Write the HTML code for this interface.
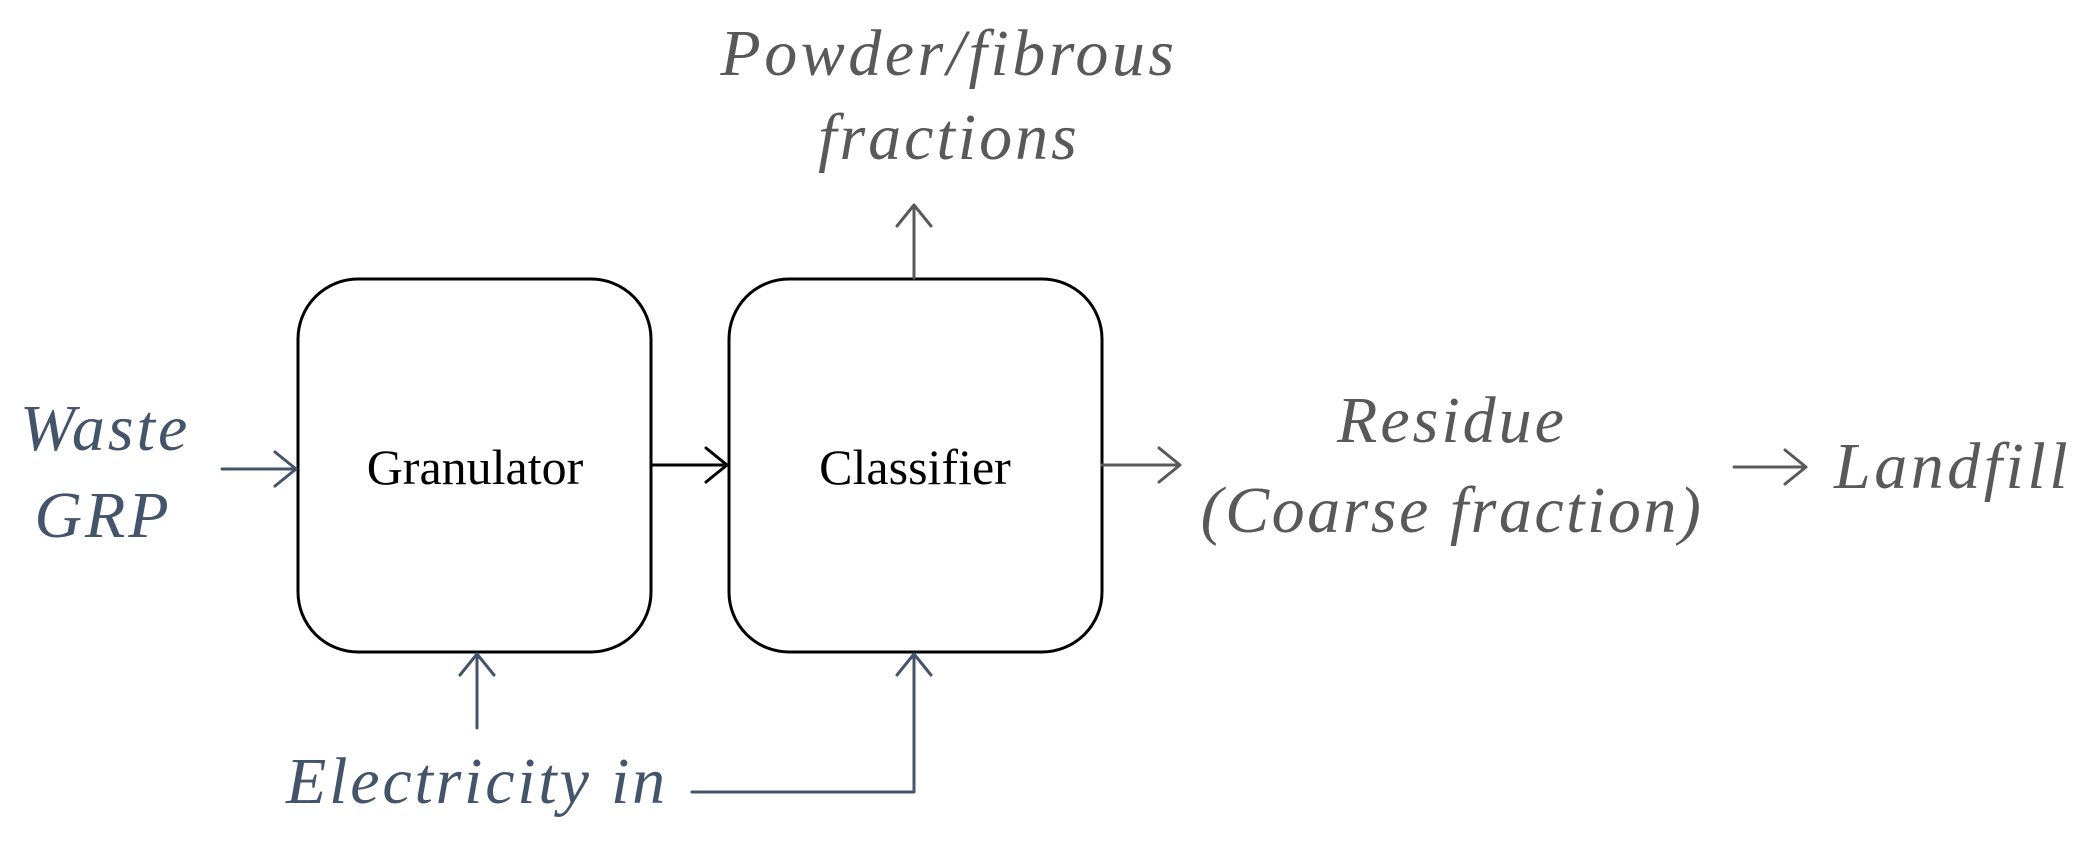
<!DOCTYPE html>
<html><head><meta charset="utf-8"><style>
html,body{margin:0;padding:0;background:#fff;}
svg{display:block;}
text{font-family:"Liberation Serif",serif;}
</style></head><body>
<svg width="2097" height="849" viewBox="0 0 2097 849" xmlns="http://www.w3.org/2000/svg">
<g fill="none" stroke-linecap="round" stroke-linejoin="round">
<rect x="298" y="279" width="353" height="373" rx="60" ry="60" stroke="#000" stroke-width="3"/>
<rect x="729" y="279" width="373" height="373" rx="60" ry="60" stroke="#000" stroke-width="3"/>
<g stroke="#44546a" stroke-width="3"><path d="M222 469 H296 M275 452 L296 469 L275 486"/></g>
<g stroke="#000" stroke-width="3"><path d="M652 465 H727 M706 448 L727 465 L706 482"/></g>
<g stroke="#595959" stroke-width="3"><path d="M1102 465 H1180 M1159 448 L1180 465 L1159 482"/></g>
<g stroke="#595959" stroke-width="3"><path d="M1734 467 H1806 M1785 450 L1806 467 L1785 484"/></g>
<g stroke="#595959" stroke-width="3"><path d="M914 278 V205 M897 226 L914 205 L931 226"/></g>
<g stroke="#44546a" stroke-width="3">
<path d="M477 728 V654 M460 675 L477 654 L494 675"/>
<path d="M692 792 H914 V654 M897 675 L914 654 L931 675"/>
</g>
</g>
<g font-style="italic" font-size="66" letter-spacing="3">
<text x="20" y="450" fill="#44546a">Waste</text>
<text x="103" y="537" text-anchor="middle" fill="#44546a">GRP</text>
<text x="949" y="75" text-anchor="middle" fill="#595959" letter-spacing="3.5">Powder/fibrous</text>
<text x="949" y="159" text-anchor="middle" fill="#595959">fractions</text>
<text x="1452" y="442" text-anchor="middle" fill="#595959">Residue</text>
<text x="1452" y="532" text-anchor="middle" fill="#595959" letter-spacing="2.5">(Coarse fraction)</text>
<text x="1834" y="488" fill="#595959" letter-spacing="3.5">Landfill</text>
<text x="286" y="803" fill="#44546a" letter-spacing="2.8">Electricity in</text>
</g>
<g font-size="50" fill="#000">
<text x="475" y="484" text-anchor="middle">Granulator</text>
<text x="915" y="484" text-anchor="middle">Classifier</text>
</g>
</svg>
</body></html>
